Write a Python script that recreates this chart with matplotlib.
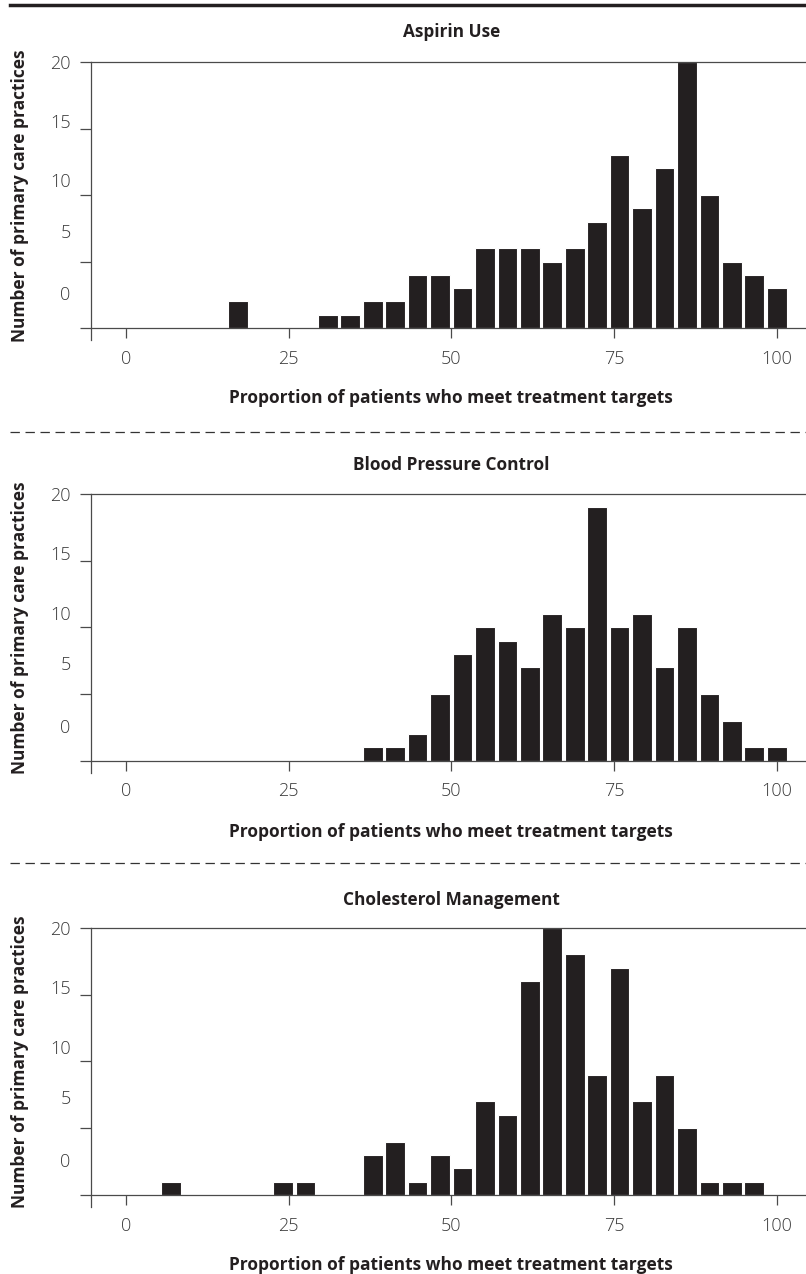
import matplotlib
matplotlib.use("Agg")
import matplotlib.pyplot as plt
import matplotlib.transforms as mtransforms
import numpy as np

plt.rcParams['font.family'] = ['Open Sans', 'DejaVu Sans']

# ---- data -------------------------------------------------------------
n_bins = 30
bin_centers = [k * 100 / 29 for k in range(n_bins)]

titles = ["Aspirin Use", "Blood Pressure Control", "Cholesterol Management"]

aspirin_counts = [0, 0, 0, 0, 0, 2, 0, 0, 0, 1, 1, 2, 2, 4, 4, 3, 6, 6, 6, 5,
                  6, 8, 13, 9, 12, 20, 10, 5, 4, 3]
bp_counts = [0, 0, 0, 0, 0, 0, 0, 0, 0, 0, 0, 1, 1, 2, 5, 8, 10, 9, 7, 11,
             10, 19, 10, 11, 7, 10, 5, 3, 1, 1]
chol_counts = [0, 0, 1, 0, 0, 0, 0, 1, 1, 0, 0, 3, 4, 1, 3, 2, 7, 6, 16, 20,
               18, 9, 17, 7, 9, 5, 1, 1, 1, 0]
series = [aspirin_counts, bp_counts, chol_counts]

xticks = [0, 25, 50, 75, 100]
xtick_labels = ["0", "25", "50", "75", "100"]
yticks = [0, 5, 10, 15, 20]
ytick_labels = ["20", "15", "10", "5", "0"]
# label positions as printed in the original (offset from their ticks)
ytick_label_pos = [20, 15.6, 11.1, 7.3, 2.6]

xlabel = "Proportion of patients who meet treatment targets"
ylabel = "Number of primary care practices"

# ---- layout -----------------------------------------------------------
W, H = 806, 1274
fig = plt.figure(figsize=(W / 100, H / 100), dpi=100)

def fy(px):
    return 1 - px / H

dark = '#231f20'
line_col = '#4a4a4a'
tick_col = '#3a3a3a'

# (axes top px, axes bottom px, title baseline px, xlabel baseline px)
panels = [(62, 340, 37.3, 403.3), (494, 772.7, 470, 836.7), (927.7, 1207, 905, 1270)]
left_px = 90.7

for i, (top, bot, tb, xb) in enumerate(panels):
    ax = fig.add_axes([left_px / W, fy(bot), 1 - left_px / W, (bot - top) / H])
    ax.bar(bin_centers, series[i], width=100 / 29 * 0.88, color=dark,
           edgecolor='white', linewidth=0.8, zorder=2)
    ax.set_xlim(-5.4, 104.5)
    ax.set_ylim(-0.9, 20)
    ax.spines['right'].set_visible(False)
    ax.spines['bottom'].set_position(('data', 0))
    for s in ['left', 'bottom', 'top']:
        ax.spines[s].set_color(line_col)
        ax.spines[s].set_linewidth(0.9)
        ax.spines[s].set_zorder(3)
    ax.set_xticks(xticks)
    ax.set_xticklabels(xtick_labels)
    ax.tick_params(axis='x', direction='out', length=7.5, width=0.9,
                   color=line_col, pad=8, labelsize=13, labelcolor=tick_col)
    ax.yaxis.remove_overlapping_locs = False
    ax.set_yticks(yticks)
    ax.set_yticklabels([])
    ax.tick_params(axis='y', which='major', direction='out', length=7.7,
                   width=0.9, color=line_col)
    ax.set_yticks(ytick_label_pos, minor=True)
    ax.set_yticklabels(ytick_labels, minor=True)
    ax.tick_params(axis='y', which='minor', length=0, pad=14.5,
                   labelsize=13, labelcolor=tick_col)
    for lab in ax.get_xticklabels() + ax.get_yticklabels(minor=True):
        lab.set_fontweight('light')

    ax.set_ylabel(ylabel, fontsize=12.5, fontweight='bold', color=dark)
    trans = mtransforms.blended_transform_factory(fig.transFigure, ax.transAxes)
    ax.yaxis.set_label_coords(20 / W, 0.52, transform=trans)
    ax.yaxis.label.set_va('center')

    tr = mtransforms.blended_transform_factory(ax.transData, fig.transFigure)
    fig.text(50, fy(tb), titles[i], transform=tr, ha='center', va='baseline',
             fontsize=12.4, fontweight='bold', color=dark)
    fig.text(50, fy(xb), xlabel, transform=tr, ha='center', va='baseline',
             fontsize=12.5, fontweight='bold', color=dark)

# separators
fig.add_artist(plt.Line2D([10 / W, 1], [fy(5), fy(5)], color=dark, lw=2.5,
                          transform=fig.transFigure))
for ypx in [432, 863]:
    fig.add_artist(plt.Line2D([10 / W, 1], [fy(ypx), fy(ypx)], color='#333333',
                              lw=0.9, dashes=(7.5, 4.5),
                              transform=fig.transFigure))

fig.savefig("out.png", dpi=100, facecolor='white')
